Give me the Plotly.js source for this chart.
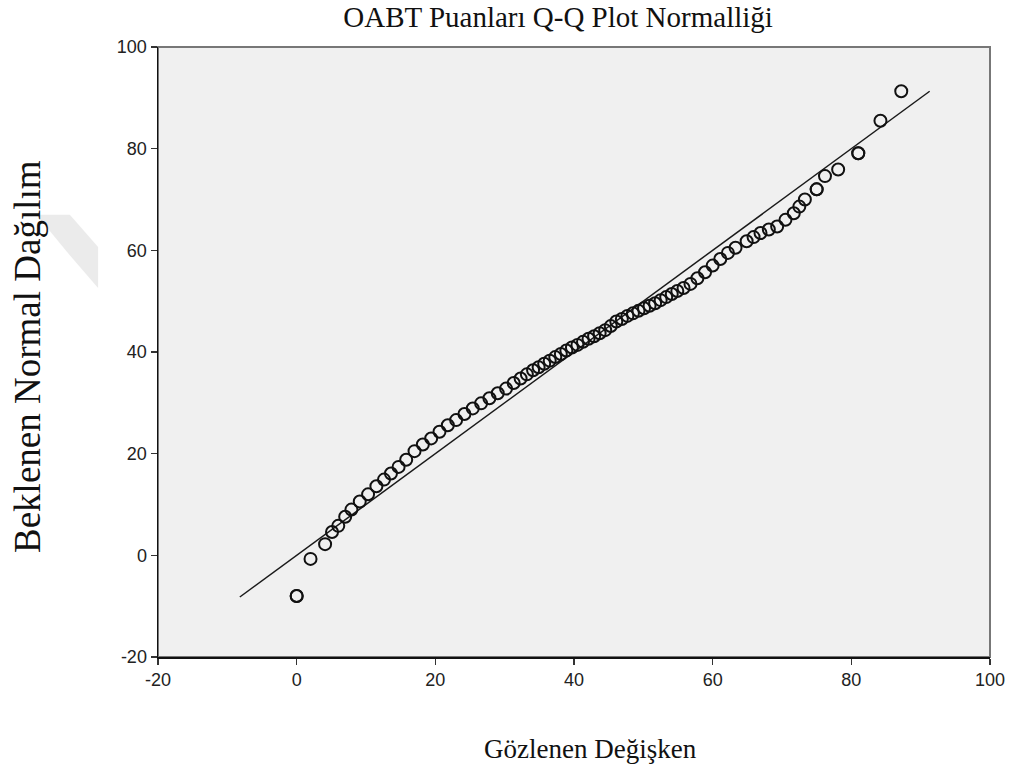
<!DOCTYPE html>
<html>
<head>
<meta charset="utf-8">
<script src="https://cdn.plot.ly/plotly-3.0.1.min.js"></script>
<style>html,body{margin:0;padding:0;background:#fff}#chart{width:1011px;height:776px}</style>
</head>
<body>
<div id="chart"></div>
<script>
var observed = [0, 0, 2, 4.1, 5.1, 6, 7, 7.9, 9.1, 10.3, 11.5, 12.6, 13.6, 14.7, 15.8, 17, 18.2, 19.4, 20.6, 21.8, 23, 24.2, 25.4, 26.6, 27.8, 29, 30.2, 31.3, 32.3, 33.2, 34.1, 34.9, 35.7, 36.5, 37.3, 38.1, 38.9, 39.7, 40.5, 41.3, 42.1, 42.9, 43.7, 44.5, 45.3, 46.1, 46.9, 47.7, 48.5, 49.3, 50.1, 50.9, 51.7, 52.5, 53.3, 54.1, 54.9, 55.8, 56.8, 57.8, 58.9, 60, 61.1, 62.2, 63.3, 64.9, 65.9, 66.9, 68.1, 69.3, 70.5, 71.7, 72.5, 73.3, 75, 75, 76.2, 78.1, 81, 81, 84.2, 87.2];
var expected = [-8, -8, -0.7, 2.2, 4.6, 5.8, 7.6, 9.0, 10.6, 12.0, 13.6, 14.9, 16.1, 17.4, 18.8, 20.5, 21.8, 23.0, 24.3, 25.6, 26.6, 27.8, 28.9, 29.9, 30.9, 31.9, 32.8, 33.9, 34.8, 35.6, 36.4, 37.0, 37.7, 38.3, 39.0, 39.6, 40.3, 40.9, 41.4, 42.0, 42.6, 43.1, 43.7, 44.3, 45.1, 46.0, 46.5, 47.1, 47.6, 48.1, 48.6, 49.1, 49.6, 50.2, 50.8, 51.4, 52.0, 52.6, 53.4, 54.5, 55.7, 57.0, 58.3, 59.5, 60.5, 61.8, 62.6, 63.4, 64.1, 64.7, 66.0, 67.3, 68.6, 70.0, 72.0, 72.0, 74.6, 75.9, 79.1, 79.1, 85.5, 91.3];
// Reference line (y = x) end points
var refLineX = [-8.2, 91.3];
var refLineY = [-8.2, 91.3];
var tickVals = [-20, 0, 20, 40, 60, 80, 100];
var tickText = ['-20', '0', '20', '40', '60', '80', '100'];
var chartTitle = 'OABT Puanları Q-Q Plot Normalliği';
var xTitle = 'Gözlenen Değişken';
var yTitle = 'Beklenen Normal Dağılım';

var traces = [
  {
    x: refLineX, y: refLineY, mode: 'lines', type: 'scatter',
    line: {color: '#1a1a1a', width: 1.5}, hoverinfo: 'skip', showlegend: false
  },
  {
    x: observed, y: expected, mode: 'markers', type: 'scatter',
    marker: {symbol: 'circle-open', size: 12, color: '#111', line: {width: 2, color: '#111'}},
    showlegend: false
  }
];

var serif = '"Liberation Serif", "Times New Roman", serif';
var sans = '"Liberation Sans", Arial, sans-serif';

var axisCommon = {
  range: [-20, 100], tickmode: 'array', tickvals: tickVals, ticktext: tickText,
  showgrid: false, zeroline: false, showline: true, linecolor: '#111', linewidth: 1.5,
  ticks: 'outside', ticklen: 6, tickwidth: 1.5, tickcolor: '#333',
  tickfont: {family: sans, size: 18, color: '#222'}, fixedrange: true
};

var layout = {
  width: 1011, height: 776,
  margin: {l: 158, r: 21, t: 47, b: 119},
  paper_bgcolor: '#ffffff', plot_bgcolor: '#f0f0f0',
  title: {text: chartTitle, font: {family: serif, size: 29, color: '#111'},
          xref: 'container', x: 0.552, xanchor: 'center', yref: 'container', y: 0.978, yanchor: 'middle'},
  xaxis: Object.assign({}, axisCommon, {ticklabelstandoff: 0}),
  yaxis: Object.assign({}, axisCommon, {ticklabelstandoff: 0}),
  shapes: [
    {type: 'rect', xref: 'paper', yref: 'paper', x0: 0, x1: 1, y0: 0, y1: 1,
     line: {color: '#777', width: 2}, fillcolor: 'rgba(0,0,0,0)', layer: 'below'},
    {type: 'path', xref: 'paper', yref: 'paper', layer: 'below',
     path: 'M -0.146 0.725 L -0.106 0.725 L -0.072 0.672 L -0.072 0.605 L -0.110 0.665 Z',
     fillcolor: '#ebebeb', line: {width: 0}}
  ],
  annotations: [
    {text: xTitle, xref: 'paper', yref: 'paper', x: (590 - 158) / 832, y: -(749 - 657) / 610,
     xanchor: 'center', yanchor: 'middle', showarrow: false,
     font: {family: serif, size: 27, color: '#111'}},
    {text: yTitle, xref: 'paper', yref: 'paper', x: -(158 - 27) / 832, y: (657 - 357) / 610,
     xanchor: 'center', yanchor: 'middle', showarrow: false, textangle: -90,
     font: {family: serif, size: 37, color: '#111'}}
  ]
};

Plotly.newPlot('chart', traces, layout, {displayModeBar: false, staticPlot: true});
</script>
</body>
</html>
